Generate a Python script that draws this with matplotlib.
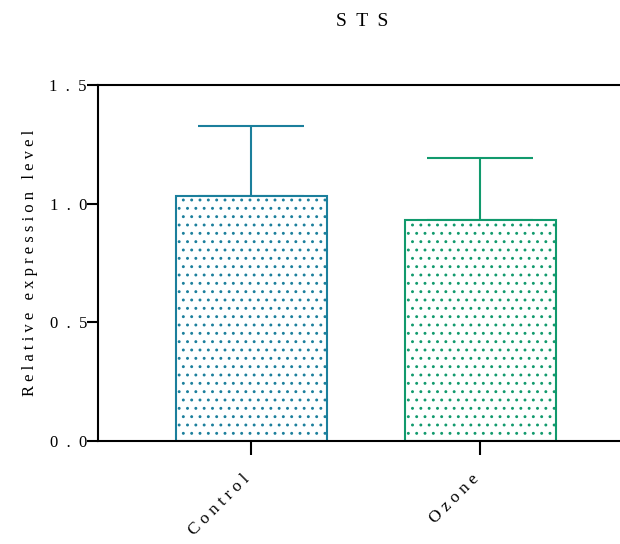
import matplotlib
matplotlib.use("Agg")
import matplotlib.pyplot as plt

plt.rcParams["font.family"] = ["Liberation Serif", "DejaVu Serif"]
plt.rcParams["hatch.linewidth"] = 0.9

groups = ["Control", "Ozone"]
means = [1.032, 0.931]
errors = [0.295, 0.262]
yticks = [0.0, 0.5, 1.0, 1.5]
colors = ["#1b7f9c", "#119a6d"]


def spaced(s, gap=" "):
    return gap.join(s)


fig = plt.figure(figsize=(6.2, 5.44), dpi=100)
ax = fig.add_axes([98 / 620, 1 - 441 / 544, 522 / 620, 356 / 544])

x = list(range(len(groups)))
for i in x:
    ax.bar(i, means[i], width=0.66, facecolor="white", edgecolor=colors[i],
           linewidth=1.5, hatch="..", zorder=2)
    ax.errorbar(i, means[i], yerr=[[0], [errors[i]]], fmt="none",
                ecolor=colors[i], elinewidth=1.5, capsize=38, capthick=1.5,
                zorder=1)

ax.set_xlim(-0.67, 1.61)
ax.set_ylim(0, 1.5)
ax.set_yticks(yticks)
ax.set_yticklabels([spaced(f"{v:.1f}", "  ") for v in yticks], fontsize=12)
ax.set_xticks(x)
ax.set_xticklabels([])
for i, g in zip(x, groups):
    ax.annotate(spaced(g), xy=(i, 0), xycoords=("data", "axes fraction"),
                xytext=(-7.0, -21.6), textcoords="offset points", rotation=45,
                ha="right", va="top", rotation_mode="anchor", fontsize=12.5)

for side in ["left", "top", "bottom"]:
    ax.spines[side].set_linewidth(1.5)
ax.spines["right"].set_visible(False)
ax.tick_params(axis="y", length=8, width=1.5, pad=0)
ax.tick_params(axis="x", length=10, width=1.5)

ax.set_ylabel(spaced("Relative") + "   " + spaced("expression") + "   " + spaced("level"),
              fontsize=12, labelpad=8)
fig.text(362 / 620, 1 - 22 / 544, "S  T  S", ha="center", va="center", fontsize=14)

fig.savefig("out.png", dpi=100)
